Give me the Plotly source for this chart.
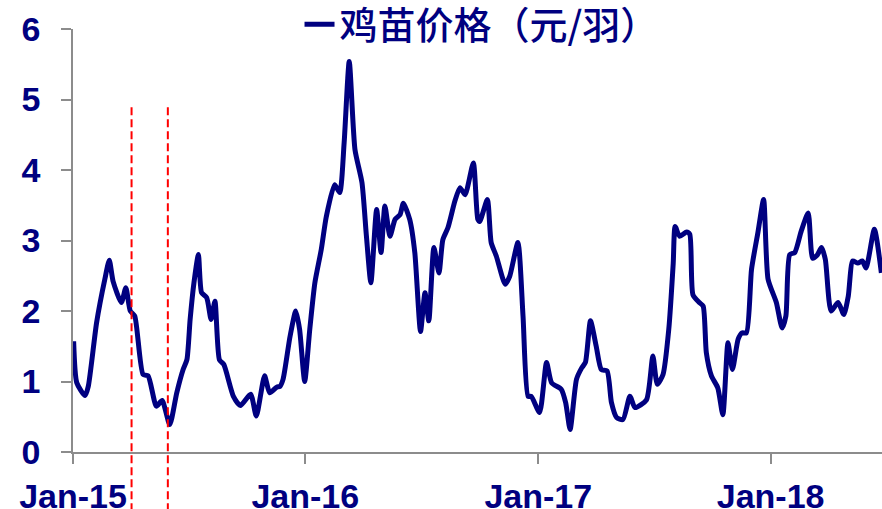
import plotly.graph_objects as go

NAVY = "#000080"

dates = [
    "2015-01-02", "2015-01-07", "2015-01-20", "2015-01-25", "2015-02-07", "2015-02-20",
    "2015-02-27", "2015-03-05", "2015-03-18", "2015-03-25", "2015-04-01", "2015-04-08",
    "2015-04-21", "2015-04-29", "2015-05-12", "2015-05-21", "2015-06-02", "2015-06-13",
    "2015-06-23", "2015-06-29", "2015-07-04", "2015-07-10", "2015-07-17", "2015-07-22",
    "2015-07-30", "2015-08-06", "2015-08-12", "2015-08-19", "2015-08-26", "2015-09-10",
    "2015-09-21", "2015-10-07", "2015-10-16", "2015-10-29", "2015-11-06", "2015-11-17",
    "2015-11-22", "2015-11-27", "2015-12-08", "2015-12-17", "2015-12-23", "2015-12-31",
    "2016-01-08", "2016-01-16", "2016-01-26", "2016-02-03", "2016-02-16", "2016-02-24",
    "2016-03-02", "2016-03-10", "2016-03-19", "2016-03-30", "2016-04-06", "2016-04-13",
    "2016-04-22", "2016-04-29", "2016-05-05", "2016-05-13", "2016-05-21", "2016-05-29",
    "2016-06-03", "2016-06-13", "2016-06-21", "2016-06-30", "2016-07-07", "2016-07-13",
    "2016-07-21", "2016-07-29", "2016-08-04", "2016-08-12", "2016-08-23", "2016-08-31",
    "2016-09-08", "2016-09-21", "2016-09-28", "2016-10-01", "2016-10-13", "2016-10-19",
    "2016-10-27", "2016-11-10", "2016-11-17", "2016-11-30", "2016-12-08", "2016-12-16",
    "2016-12-21", "2017-01-03", "2017-01-14", "2017-01-22", "2017-02-06", "2017-02-13",
    "2017-02-20", "2017-03-02", "2017-03-10", "2017-03-16", "2017-03-24", "2017-04-02",
    "2017-04-10", "2017-04-19", "2017-04-26", "2017-05-04", "2017-05-14", "2017-05-25",
    "2017-06-02", "2017-06-20", "2017-06-30", "2017-07-07", "2017-07-16", "2017-07-25",
    "2017-08-01", "2017-08-04", "2017-08-11", "2017-08-22", "2017-08-27", "2017-09-01",
    "2017-09-11", "2017-09-17", "2017-09-22", "2017-09-30", "2017-10-10", "2017-10-18",
    "2017-10-26", "2017-11-02", "2017-11-11", "2017-11-17", "2017-11-24", "2017-12-02",
    "2017-12-12", "2017-12-21", "2017-12-28", "2018-01-10", "2018-01-19", "2018-01-25",
    "2018-01-31", "2018-02-08", "2018-02-18", "2018-03-01", "2018-03-08", "2018-03-15",
    "2018-03-22", "2018-03-28", "2018-04-06", "2018-04-17", "2018-04-26", "2018-05-03",
    "2018-05-10", "2018-05-18", "2018-05-25", "2018-05-31", "2018-06-13", "2018-06-24",
]

chick_price = [
    1.57, 0.98, 0.80, 0.93, 1.83, 2.45,
    2.72, 2.42, 2.12, 2.33, 2.00, 1.93,
    1.10, 1.08, 0.65, 0.73, 0.39, 0.84,
    1.17, 1.31, 1.88, 2.40, 2.80, 2.26,
    2.19, 1.88, 2.14, 1.31, 1.24, 0.79,
    0.66, 0.82, 0.51, 1.08, 0.84, 0.92,
    0.93, 1.03, 1.64, 2.00, 1.74, 1.00,
    1.74, 2.40, 2.87, 3.34, 3.79, 3.68,
    4.39, 5.54, 4.29, 3.82, 3.06, 2.40,
    3.44, 2.83, 3.49, 3.06, 3.30, 3.37,
    3.53, 3.30, 2.83, 1.71, 2.26, 1.86,
    2.90, 2.54, 3.01, 3.18, 3.56, 3.75,
    3.65, 4.10, 3.30, 3.27, 3.58, 2.97,
    2.78, 2.38, 2.49, 2.97, 1.93, 0.79,
    0.79, 0.56, 1.27, 0.98, 0.89, 0.70,
    0.32, 1.03, 1.19, 1.27, 1.86, 1.50,
    1.17, 1.15, 0.70, 0.49, 0.46, 0.79,
    0.63, 0.74, 1.36, 0.96, 1.10, 1.74,
    2.68, 3.20, 3.06, 3.12, 3.09, 2.23,
    2.12, 2.07, 1.41, 1.08, 0.91, 0.53,
    1.55, 1.17, 1.60, 1.69, 1.69, 2.59,
    3.11, 3.58, 2.45, 2.12, 1.76, 1.93,
    2.80, 2.83, 3.13, 3.39, 2.75, 2.79,
    2.90, 2.73, 2.00, 2.12, 1.95, 2.21,
    2.71, 2.68, 2.71, 2.61, 3.16, 2.54,
]

marker_dates = ["2015-04-03", "2015-05-30"]
marker_top = 4.9

y_ticks = [0, 1, 2, 3, 4, 5, 6]
x_range = ["2015-01-01", "2018-06-25"]
series_name = "鸡苗价格（元/羽）"

fig = go.Figure()
fig.add_trace(go.Scatter(
    x=dates, y=chick_price, mode="lines", name=series_name,
    line=dict(color=NAVY, width=5, shape="spline", smoothing=0.6),
))

for d in marker_dates:
    fig.add_shape(type="line", xref="x", yref="paper",
                  x0=d, x1=d, y0=-0.14, y1=marker_top / 6,
                  line=dict(color="#FF0000", width=2, dash="8px,4px"))

tickfont = dict(family="Arial, 'Liberation Sans', sans-serif", size=34, color=NAVY, weight="bold")

fig.update_layout(
    width=882, height=509,
    margin=dict(l=73, r=0, t=29, b=57, autoexpand=False),
    paper_bgcolor="white", plot_bgcolor="white",
    showlegend=True,
    legend=dict(
        x=0.28, y=1.085, xanchor="left", yanchor="top",
        bgcolor="rgba(0,0,0,0)", borderwidth=0,
        font=dict(family="'Noto Sans CJK SC', sans-serif", size=38, color=NAVY, weight=500),
    ),
    xaxis=dict(
        type="date", range=x_range,
        tick0="2015-01-01", dtick="M12", tickformat="%b-%y", tickangle=0,
        showgrid=False, zeroline=False,
        showline=True, linecolor="#8C8C8C", linewidth=1.5,
        ticks="outside", ticklen=10, tickwidth=1.5, tickcolor="#8C8C8C",
        tickfont=tickfont, ticklabelstandoff=3,
    ),
    yaxis=dict(
        range=[0, 6], tickvals=y_ticks,
        showgrid=False, zeroline=False,
        showline=True, linecolor="#8C8C8C", linewidth=1.5,
        ticks="outside", ticklen=10, tickwidth=1.5, tickcolor="#8C8C8C",
        tickfont=tickfont, ticklabelstandoff=14,
    ),
)

fig.write_html("out.html", config={"displayModeBar": False},
               post_script="document.body.style.margin='0';document.body.style.overflow='hidden';")
